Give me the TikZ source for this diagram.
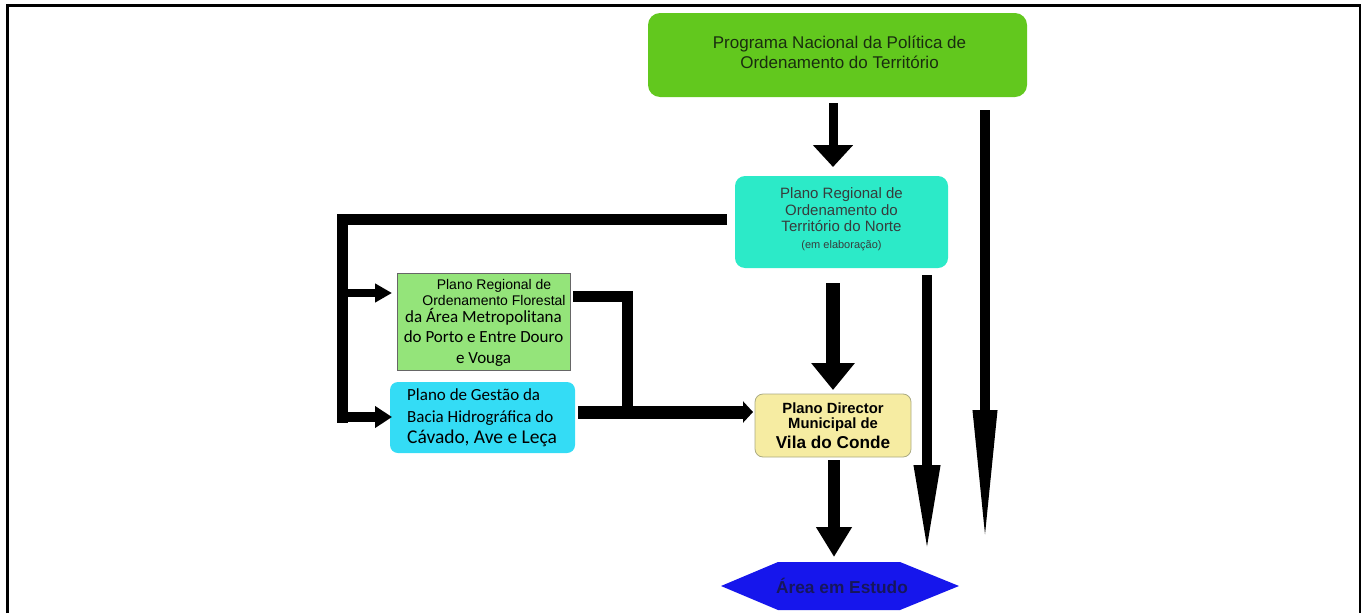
\documentclass[tikz,border=0pt]{standalone}
\usepackage{fontspec}
\setmainfont{Liberation Sans}
\newfontfamily\carlito{Carlito}
\usetikzlibrary{arrows.meta,calc}

\definecolor{pnpotfill}{RGB}{98,200,30}
\definecolor{pnpottext}{RGB}{25,45,15}
\definecolor{protfill}{RGB}{44,234,200}
\definecolor{prottext}{RGB}{55,60,60}
\definecolor{proffill}{RGB}{148,228,122}
\definecolor{pgbhfill}{RGB}{52,220,245}
\definecolor{pdmfill}{RGB}{246,236,162}
\definecolor{pdmline}{RGB}{170,170,130}
\definecolor{areafill}{RGB}{22,22,236}
\definecolor{areatext}{RGB}{22,22,92}

\tikzset{
  box/.style={inner sep=0pt, outer sep=0pt},
  txt/.style={inner sep=0pt, align=center},
  fat/.style n args={3}{line width=#1, -{Triangle[length=#2, width=#3]}},
  bar/.style={line width=#1, line join=miter},
}

\begin{document}
\begin{tikzpicture}[x=1pt, y=-1pt]
\useasboundingbox (0,0) rectangle (1364,613);

% outer frame (open at the bottom)
\draw[line width=2.5pt] (7.7,613) -- (7.7,5.3) -- (1360,5.3) -- (1360,613);

% boxes
\node[box, fill=pnpotfill, rounded corners=12pt, minimum width=379pt, minimum height=84pt] (pnpot) at (837.5,55) {};
\node[box, fill=protfill, rounded corners=10pt, minimum width=213pt, minimum height=92pt] (prot) at (841.5,222) {};
\node[box, fill=proffill, draw=black!60, line width=0.8pt, minimum width=173pt, minimum height=97pt] (prof) at (483.5,321.5) {};
\node[box, fill=pgbhfill, rounded corners=8pt, minimum width=185pt, minimum height=71pt] (pgbh) at (482.5,417.5) {};
\node[box, fill=pdmfill, draw=pdmline, line width=0.8pt, rounded corners=8pt, minimum width=156pt, minimum height=63pt] (pdm) at (833,425.5) {};
\node[box, minimum width=238pt, minimum height=48pt] (area) at (840,586) {};
\fill[areafill] (area.west) -- ($(area.north west)+(57,0)$) -- ($(area.north east)+(-59,0)$)
  -- (area.east) -- ($(area.south east)+(-59,0)$) -- ($(area.south west)+(57,0)$) -- cycle;

% box texts
\node[txt, text=pnpottext, font=\fontsize{17}{19.5}\selectfont] (pnpot-t) at ($(pnpot)+(2,-2.5)$)
  {Programa Nacional da Política de\\Ordenamento do Território};
\node[txt, text=prottext, font=\fontsize{15}{16.5}\selectfont] (prot-t) at ($(prot)+(0,-3)$)
  {Plano Regional de\\Ordenamento do\\Território do Norte\\{\fontsize{11}{12}\selectfont (em elaboração)}};
\node[txt, font=\fontsize{14}{16}\selectfont] (prof-t) at ($(prof)+(0,1)$)
  {\hspace*{21pt}Plano Regional de\\\hspace*{21pt}Ordenamento Florestal\\[1pt]
   {\carlito\fontsize{17}{20}\selectfont da Área Metropolitana}\\[4pt]
   {\carlito\fontsize{17}{20}\selectfont do Porto e Entre Douro}\\[5pt]
   {\carlito\fontsize{17}{20}\selectfont e Vouga}};
\node[txt, align=left, anchor=west, font=\carlito\fontsize{17}{21.5}\selectfont] (pgbh-t) at ($(pgbh.west)+(17,0.5)$)
  {Plano de Gestão da\\Bacia Hidrográfica do\\{\fontsize{19.5}{21.5}\selectfont Cávado, Ave e Leça}};
\node[txt, font=\bfseries\fontsize{14.8}{15}\selectfont] (pdm-t) at (pdm)
  {Plano Director\\Municipal de\\[3pt]{\fontsize{17.2}{18}\selectfont Vila do Conde}};
\node[txt, text=areatext, font=\bfseries\fontsize{17.3}{18}\selectfont] (area-t) at ($(area)+(2,0)$) {Área em Estudo};

% main vertical arrows
\draw[fat={9pt}{22pt}{39pt}] ($(pnpot.south)+(-4.5,6)$) -- ($(prot.north)+(-8.5,-9)$);
\draw[fat={14pt}{27pt}{42pt}] ($(prot.south)+(-8.5,15)$) -- ($(pdm.north)+(0,-4)$);
\draw[fat={12pt}{30pt}{34pt}] ($(pdm.south)+(1,3)$) -- ($(area.north)+(-6,-5)$);
\draw[fat={10pt}{88pt}{24pt}] ($(prot.south east)+(-21,7)$) -- ($(area.east)+(-32,-33)$);
\draw[fat={10pt}{137pt}{22pt}] ($(pnpot.south east)+(-42,13)$) -- ($(area.east)+(26,-39)$);

% left branch from the regional plan
\coordinate (kneeA) at ($(prot.west)+(-393,-3)$);
\draw[bar=11pt] ($(prot.west)+(-8,-3)$) -- (kneeA) -- ($(kneeA)+(0,204)$);
\draw[fat={8pt}{17pt}{18pt}] ($(kneeA)+(0,74)$) -- ($(prof.west)+(-5,-28.5)$);
\draw[fat={10pt}{17pt}{21pt}] ($(kneeA)+(0,198)$) -- ($(pgbh.west)+(2,-0.5)$);

% right branch into the municipal plan
\coordinate (kneeB) at ($(prof.east)+(57,-25.5)$);
\draw[bar=11pt] ($(prof.east)+(3,-25.5)$) -- (kneeB) -- ($(kneeB)+(0,116)$);
\draw[fat={13pt}{10pt}{21pt}] ($(pgbh.east)+(3,-5.5)$) -- ($(pdm.west)+(-2,-13.5)$);
\end{tikzpicture}
\end{document}
